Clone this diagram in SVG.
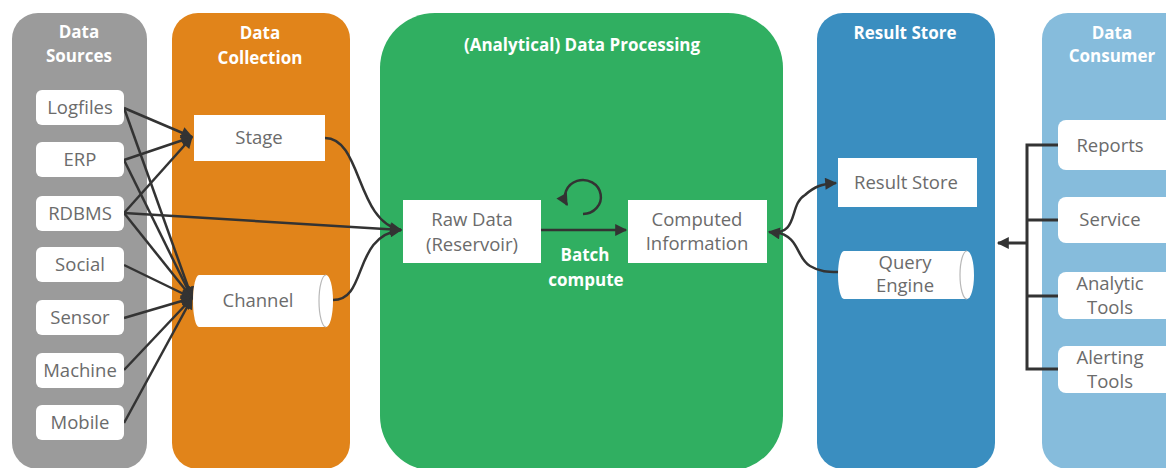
<svg xmlns="http://www.w3.org/2000/svg" width="1166" height="468" viewBox="0 0 1166 468">
<style>
.title{font-family:"Open Sans","Liberation Sans",sans-serif;font-weight:bold;font-size:17px;fill:#ffffff;text-anchor:middle}
.lbl{font-family:"Open Sans","Liberation Sans",sans-serif;font-size:18.5px;fill:#6b6b6b;text-anchor:middle}
.box{fill:#ffffff}
.cyl{fill:#ffffff}
.capl{fill:none;stroke:#b8b8b8;stroke-width:1.2}
.con{fill:none;stroke:#333333;stroke-width:2.5}
.brk{fill:none;stroke:#333333;stroke-width:3}
</style>
<defs>
<marker id="ah" viewBox="0 0 10 10" refX="9" refY="5" markerWidth="13" markerHeight="12" markerUnits="userSpaceOnUse" orient="auto-start-reverse">
<path d="M0,0 L10,5 L0,10 Z" fill="#333333"/>
</marker>
</defs>
<rect width="1166" height="468" fill="#ffffff"/>

<g id="panel-sources">
<rect x="12" y="13" width="135" height="456" rx="26" fill="#9b9b9b"/>
<text class="title" x="79" y="38">Data</text>
<text class="title" x="79" y="62">Sources</text>
</g>
<g id="panel-collection">
<rect x="172" y="13" width="178" height="456" rx="26" fill="#e1841a"/>
<text class="title" x="260" y="39">Data</text>
<text class="title" x="260" y="64">Collection</text>
</g>
<g id="panel-processing">
<rect x="380" y="13" width="403" height="458" rx="55" fill="#30af61"/>
<text class="title" x="582" y="51">(Analytical) Data Processing</text>
</g>
<g id="panel-result">
<rect x="817" y="13" width="178" height="456" rx="26" fill="#3a8ec0"/>
<text class="title" x="905" y="39">Result Store</text>
</g>
<g id="panel-consumer">
<rect x="1042" y="13" width="150" height="456" rx="26" fill="#86bcdc"/>
<text class="title" x="1112" y="39">Data</text>
<text class="title" x="1112" y="62">Consumer</text>
</g>

<g id="connectors">
<line class="con" x1="124" y1="108" x2="192" y2="137" marker-end="url(#ah)"/>
<line class="con" x1="124" y1="108" x2="192" y2="298" marker-end="url(#ah)"/>
<line class="con" x1="124" y1="160" x2="192" y2="137" marker-end="url(#ah)"/>
<line class="con" x1="124" y1="160" x2="192" y2="298" marker-end="url(#ah)"/>
<line class="con" x1="124" y1="213" x2="192" y2="137" marker-end="url(#ah)"/>
<line class="con" x1="124" y1="213" x2="192" y2="298" marker-end="url(#ah)"/>
<line class="con" x1="124" y1="213" x2="401" y2="230" marker-end="url(#ah)"/>
<line class="con" x1="124" y1="265" x2="192" y2="298" marker-end="url(#ah)"/>
<line class="con" x1="124" y1="318" x2="192" y2="298" marker-end="url(#ah)"/>
<line class="con" x1="124" y1="370" x2="192" y2="298" marker-end="url(#ah)"/>
<line class="con" x1="124" y1="423" x2="192" y2="298" marker-end="url(#ah)"/>
<path class="con" d="M325,138 C362,138 356,222 401,230" marker-end="url(#ah)"/>
<path class="con" d="M333,300 C368,300 352,236 401,230" marker-end="url(#ah)"/>
<line class="con" x1="541" y1="230" x2="626" y2="230" marker-end="url(#ah)"/>
<path class="con" d="M583,214 A18,17 0 1 0 567,205" marker-end="url(#ah)"/>
<path class="con" d="M769,232 C800,236 788,205 805,195 C815,186 822,184 836,183" marker-start="url(#ah)" marker-end="url(#ah)"/>
<path class="con" d="M775,232 C800,236 796,258 810,266 C820,272 828,272 838,272"/>
<path class="brk" d="M1058,145 H1027 V369 H1058 M1027,220 H1058 M1027,296 H1058"/>
<line class="brk" x1="1027" y1="243" x2="998" y2="243" marker-end="url(#ah)"/>
</g>

<g id="n-logfiles"><rect class="box" x="36" y="90" width="88" height="35" rx="6"/><text class="lbl" x="80" y="114">Logfiles</text></g>
<g id="n-erp"><rect class="box" x="36" y="142" width="88" height="35" rx="6"/><text class="lbl" x="80" y="166">ERP</text></g>
<g id="n-rdbms"><rect class="box" x="36" y="196" width="88" height="35" rx="6"/><text class="lbl" x="80" y="220">RDBMS</text></g>
<g id="n-social"><rect class="box" x="36" y="247" width="88" height="35" rx="6"/><text class="lbl" x="80" y="271">Social</text></g>
<g id="n-sensor"><rect class="box" x="36" y="300" width="88" height="35" rx="6"/><text class="lbl" x="80" y="324">Sensor</text></g>
<g id="n-machine"><rect class="box" x="36" y="353" width="88" height="35" rx="6"/><text class="lbl" x="80" y="377">Machine</text></g>
<g id="n-mobile"><rect class="box" x="36" y="405" width="88" height="35" rx="6"/><text class="lbl" x="80" y="429">Mobile</text></g>

<g id="n-stage"><rect class="box" x="194" y="115" width="131" height="46"/><text class="lbl" x="259" y="144">Stage</text></g>
<g id="n-channel">
<path class="cyl" d="M199,275 H326 A7,26 0 0 1 326,327 H199 A6,26 0 0 1 199,275 Z"/>
<path class="capl" d="M326,275 A7,26 0 0 0 326,327"/>
<text class="lbl" x="258" y="307">Channel</text>
</g>

<g id="n-raw"><rect class="box" x="403" y="200" width="138" height="63"/><text class="lbl" x="472" y="226">Raw Data</text><text class="lbl" x="472" y="251">(Reservoir)</text></g>
<g id="n-computed"><rect class="box" x="628" y="200" width="139" height="63"/><text class="lbl" x="697" y="226">Computed</text><text class="lbl" x="697" y="250">Information</text></g>
<g id="l-batch"><text class="title" x="585" y="261">Batch</text><text class="title" x="586" y="286">compute</text></g>

<g id="n-resultstore"><rect class="box" x="838" y="158" width="139" height="49"/><text class="lbl" x="906" y="189">Result Store</text></g>
<g id="n-query">
<path class="cyl" d="M844,251 H967 A7,24 0 0 1 967,299 H844 A6,24 0 0 1 844,251 Z"/>
<path class="capl" d="M967,251 A7,24 0 0 0 967,299"/>
<text class="lbl" x="905" y="269">Query</text><text class="lbl" x="905" y="292">Engine</text>
</g>

<g id="n-reports"><rect class="box" x="1058" y="120" width="115" height="50" rx="8"/><text class="lbl" x="1110" y="152">Reports</text></g>
<g id="n-service"><rect class="box" x="1058" y="197" width="115" height="46" rx="8"/><text class="lbl" x="1110" y="226">Service</text></g>
<g id="n-analytic"><rect class="box" x="1058" y="272" width="115" height="47" rx="8"/><text class="lbl" x="1110" y="290">Analytic</text><text class="lbl" x="1110" y="314">Tools</text></g>
<g id="n-alerting"><rect class="box" x="1058" y="346" width="115" height="47" rx="8"/><text class="lbl" x="1110" y="364">Alerting</text><text class="lbl" x="1110" y="388">Tools</text></g>
</svg>
